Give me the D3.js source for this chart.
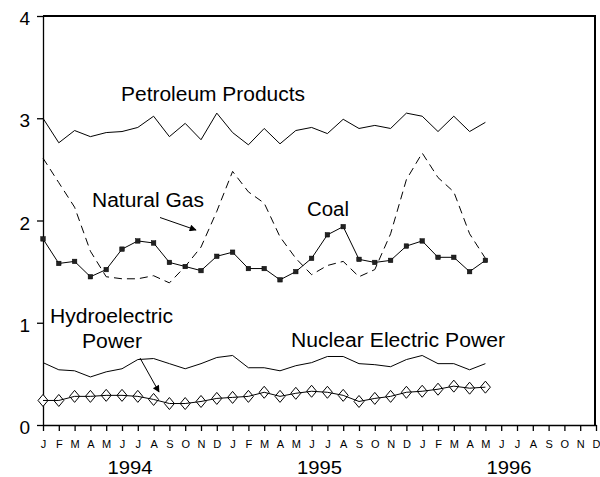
<!DOCTYPE html>
<html lang="en">
<head>
    <meta charset="UTF-8">
    <title>Energy Production by Source</title>
    <style>
        html, body {
            margin: 0;
            padding: 0;
            overflow: hidden;
            background: #FFF
        }
        svg {
            display: block;
            overflow: visible;
            font-family: "Liberation Sans", Arial, sans-serif
        }
        svg .axis path,
        svg .axis line {
            stroke: #000;
            stroke-width: 1.3px;
            fill: none
        }
        svg .frame {
            stroke: #000;
            stroke-width: 1.5px;
            fill: none;
            shape-rendering: crispEdges
        }
        svg .axis-y text {
            font-size: 19px;
            fill: #000
        }
        svg .axis-x text {
            font-size: 11px;
            fill: #000
        }
        svg .year {
            font-size: 18px;
            fill: #000
        }
        svg .series {
            fill: none;
            stroke: #000;
            stroke-width: 1px
        }
        svg .series.gas {
            stroke-dasharray: 8 5
        }
        svg .coal-marker {
            fill: #222;
            stroke: #000;
            stroke-width: 0.5px
        }
        svg .hydro-marker {
            fill: #FFF;
            stroke: #000;
            stroke-width: 1px
        }
        svg .label {
            font-size: 20px;
            fill: #000
        }
        svg .pointer {
            stroke: #000;
            stroke-width: 1px
        }
    </style>
</head>
<body>

<div id="d3-graph"></div>

<script src="https://cdnjs.cloudflare.com/ajax/libs/d3/7.8.5/d3.min.js"></script>
<script>
  // Jan 1994 .. May 1996, one value per month
  var monthLetters = ['J', 'F', 'M', 'A', 'M', 'J', 'J', 'A', 'S', 'O', 'N', 'D'];
  var years = ['1994', '1995', '1996'];
  var yTicks = [0, 1, 2, 3, 4];

  var petroleum = [3.00, 2.76, 2.88, 2.82, 2.86, 2.87, 2.91, 3.02, 2.82, 2.95, 2.79, 3.05,
    2.86, 2.74, 2.90, 2.75, 2.88, 2.91, 2.85, 2.99, 2.90, 2.93, 2.90, 3.05,
    3.02, 2.87, 3.02, 2.87, 2.96];
  var naturalGas = [2.61, 2.37, 2.13, 1.70, 1.45, 1.43, 1.43, 1.46, 1.39, 1.55, 1.74, 2.09,
    2.48, 2.28, 2.17, 1.84, 1.63, 1.47, 1.56, 1.60, 1.45, 1.52, 1.87, 2.40,
    2.66, 2.42, 2.28, 1.87, 1.63];
  var coal = [1.82, 1.58, 1.60, 1.45, 1.52, 1.72, 1.80, 1.78, 1.59, 1.55, 1.51, 1.65,
    1.69, 1.53, 1.53, 1.42, 1.50, 1.63, 1.86, 1.94, 1.62, 1.59, 1.61, 1.75,
    1.80, 1.64, 1.64, 1.50, 1.61];
  var nuclear = [0.61, 0.54, 0.53, 0.47, 0.52, 0.55, 0.64, 0.65, 0.60, 0.55, 0.60, 0.66,
    0.68, 0.56, 0.56, 0.53, 0.58, 0.61, 0.67, 0.67, 0.60, 0.59, 0.57, 0.64,
    0.68, 0.60, 0.60, 0.54, 0.60];
  var hydro = [0.24, 0.24, 0.28, 0.28, 0.29, 0.29, 0.28, 0.25, 0.21, 0.21, 0.23, 0.26,
    0.27, 0.28, 0.32, 0.28, 0.31, 0.33, 0.32, 0.29, 0.23, 0.26, 0.28, 0.32,
    0.33, 0.35, 0.38, 0.36, 0.37];

  var width = 600,
    height = 477,
    margin = {top: 16, right: 4, bottom: 52, left: 43};

  var months = d3.range(years.length * 12);

  var x = d3.scaleLinear()
    .domain([0, months.length - 1])
    .range([margin.left, width - margin.right]);

  var y = d3.scaleLinear()
    .domain([0, 4])
    .range([height - margin.bottom, margin.top]);

  var svg = d3.select('#d3-graph').append('svg')
    .attr('width', width)
    .attr('height', height);

  var defs = svg.append('defs');
  defs.append('marker')
    .attr('id', 'arrow')
    .attr('viewBox', '0 0 10 10')
    .attr('refX', 9)
    .attr('refY', 5)
    .attr('markerWidth', 9)
    .attr('markerHeight', 7)
    .attr('markerUnits', 'userSpaceOnUse')
    .attr('orient', 'auto')
    .append('path')
    .attr('d', 'M0,0 L10,5 L0,10 Z')
    .attr('fill', '#000');

  var xAxis = d3.axisBottom(x)
    .tickValues(months)
    .tickSize(6)
    .tickSizeOuter(0)
    .tickPadding(9)
    .tickFormat(function(d) { return monthLetters[d % 12]; });

  svg.append('g')
    .attr('class', 'axis axis-x')
    .attr('transform', 'translate(0,' + y(0) + ')')
    .call(xAxis);

  var yAxis = d3.axisLeft(y)
    .tickValues(yTicks)
    .tickSize(6)
    .tickSizeOuter(0)
    .tickPadding(7)
    .tickFormat(d3.format('d'));

  svg.append('g')
    .attr('class', 'axis axis-y')
    .attr('transform', 'translate(' + x(0) + ',0)')
    .call(yAxis)
    .call(function(g) { g.selectAll('text').attr('dy', '0.45em'); });

  svg.selectAll('.axis').attr('font-family', null).attr('font-size', null);

  svg.selectAll('.year')
    .data(years)
    .enter()
    .append('text')
    .attr('class', 'year')
    .attr('text-anchor', 'middle')
    .attr('x', function(d, i) { return x(i * 12 + 5.5); })
    .attr('y', 474)
    .attr('textLength', 45)
    .attr('lengthAdjust', 'spacingAndGlyphs')
    .text(function(d) { return d; });

  var line = d3.line()
    .x(function(d, i) { return x(i); })
    .y(function(d) { return y(d); });

  var plot = svg.append('g');

  plot.append('path').datum(petroleum).attr('class', 'series petroleum').attr('d', line);
  plot.append('path').datum(naturalGas).attr('class', 'series gas').attr('d', line);
  plot.append('path').datum(nuclear).attr('class', 'series nuclear').attr('d', line);
  plot.append('path').datum(coal).attr('class', 'series coal').attr('d', line);

  plot.selectAll('.coal-marker')
    .data(coal)
    .enter()
    .append('rect')
    .attr('class', 'coal-marker')
    .attr('x', function(d, i) { return x(i) - 2.25; })
    .attr('y', function(d) { return y(d) - 2.25; })
    .attr('width', 4.5)
    .attr('height', 4.5);

  plot.selectAll('.hydro-marker')
    .data(hydro)
    .enter()
    .append('path')
    .attr('class', 'hydro-marker')
    .attr('transform', function(d, i) { return 'translate(' + x(i) + ',' + y(d) + ')'; })
    .attr('d', 'M0,-6 L5,0 L0,6 L-5,0 Z');

  plot.append('path').datum(hydro).attr('class', 'series hydro').attr('d', line);

  // series labels
  var labels = [
    {text: 'Petroleum Products', x: 121, y: 101, len: 184},
    {text: 'Natural Gas', x: 92, y: 207, len: 112},
    {text: 'Coal', x: 307, y: 216, len: 42},
    {text: 'Hydroelectric', x: 50, y: 323, len: 123},
    {text: 'Power', x: 82, y: 348, len: 60},
    {text: 'Nuclear Electric Power', x: 291, y: 347, len: 214}
  ];

  svg.selectAll('.label')
    .data(labels)
    .enter()
    .append('text')
    .attr('class', 'label')
    .attr('x', function(d) { return d.x; })
    .attr('y', function(d) { return d.y; })
    .attr('textLength', function(d) { return d.len; })
    .attr('lengthAdjust', 'spacingAndGlyphs')
    .text(function(d) { return d.text; });

  var pointers = [
    {x1: 160, y1: 217.5, x2: 196, y2: 230},
    {x1: 140, y1: 358, x2: 159, y2: 392}
  ];

  svg.selectAll('.pointer')
    .data(pointers)
    .enter()
    .append('line')
    .attr('class', 'pointer')
    .attr('x1', function(d) { return d.x1; })
    .attr('y1', function(d) { return d.y1; })
    .attr('x2', function(d) { return d.x2; })
    .attr('y2', function(d) { return d.y2; })
    .attr('marker-end', 'url(#arrow)');

  // frame: top and right edges, drawn last so nothing covers it
  svg.append('path')
    .attr('class', 'frame')
    .attr('d', 'M' + x(0) + ',' + y(4) + 'H' + (x(months.length - 1) - 1) + 'V' + y(0));
</script>

</body>
</html>
